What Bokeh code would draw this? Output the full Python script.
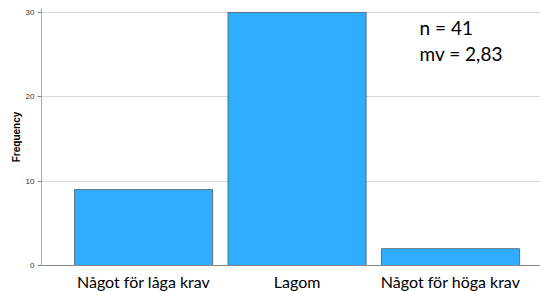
from bokeh.plotting import figure
from bokeh.models import FixedTicker, Label, Range1d, ColumnDataSource
from bokeh.embed import file_html
from bokeh.resources import INLINE

categories = ["Något för låga krav", "Lagom", "Något för höga krav"]
positions = [1, 2, 3]
frequency = [9, 30, 2]
y_ticks = [0, 10, 20, 30]
note_lines = ["n = 41", "mv = 2,83"]
note_y = [28.2, 25.1]

src = ColumnDataSource(dict(x=positions, top=frequency))

p = figure(frame_width=499, frame_height=257, output_backend="svg", toolbar_location=None,
           x_range=Range1d(0.335, 3.586), y_range=Range1d(0, 30.47),
           min_border_left=41, min_border_right=0, min_border_top=8, min_border_bottom=0)
p.outline_line_color = None
p.background_fill_color = "white"

p.vbar(x="x", top="top", width=0.9, source=src, fill_color="#31adff",
       line_color="#4a5a66", line_width=0.8)

# x axis
p.xaxis.ticker = FixedTicker(ticks=positions)
p.xaxis.major_label_overrides = {pos: lab for pos, lab in zip(positions, categories)}
p.xaxis.major_tick_line_color = None
p.xaxis.minor_tick_line_color = None
p.xaxis.axis_line_color = "#888888"
p.xaxis.major_label_text_font = "Lato"
p.xaxis.major_label_text_font_size = "16px"
p.xaxis.major_label_text_color = "black"
p.xaxis.major_label_standoff = 0
p.xgrid.grid_line_color = None

# y axis
p.yaxis.ticker = FixedTicker(ticks=y_ticks)
p.yaxis.minor_tick_line_color = None
p.yaxis.major_tick_out = 4
p.yaxis.major_tick_in = 0
p.yaxis.major_tick_line_color = "#888888"
p.yaxis.axis_line_color = "#aaaaaa"
p.yaxis.major_label_text_font = "Liberation Sans"
p.yaxis.major_label_text_font_size = "8px"
p.yaxis.major_label_text_color = "#333333"
p.yaxis.major_label_standoff = 3
p.yaxis.axis_label = "Frequency"
p.yaxis.axis_label_text_font = "Liberation Sans"
p.yaxis.axis_label_text_font_style = "bold"
p.yaxis.axis_label_text_font_size = "10px"
p.yaxis.axis_label_text_color = "black"
p.yaxis.axis_label_standoff = 1
p.ygrid.grid_line_color = "#d9d9d9"
p.ygrid.grid_line_width = 1

for line, yv in zip(note_lines, note_y):
    p.add_layout(Label(x=2.798, y=yv, text=line, text_font="Lato",
                       text_font_size="19px", text_color="black",
                       text_baseline="alphabetic"))

open("out.html", "w").write(file_html(p, INLINE))
